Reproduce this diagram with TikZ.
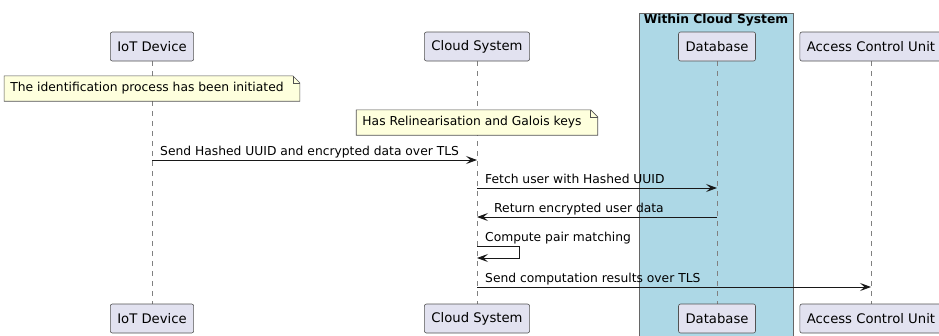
\documentclass[tikz,border=0pt]{standalone}
\usepackage{fontspec}
\setmainfont{DejaVu Sans}
\usetikzlibrary{arrows.meta, positioning, calc, backgrounds}
\definecolor{partfill}{HTML}{E2E2F0}
\definecolor{partline}{HTML}{181818}
\definecolor{notefill}{HTML}{FEFFDD}
\definecolor{boxfill}{HTML}{ADD8E6}
\tikzset{
  participant/.style={draw=partline!75, fill=partfill, rounded corners=2pt, line width=0.6pt,
    minimum height=29pt, inner xsep=7pt, font=\fontsize{13.2}{15}\selectfont},
  lifeline/.style={draw=gray, line width=0.6pt, dash pattern=on 5pt off 5pt},
  message/.style={draw=partline, line width=0.8pt, -{Stealth[length=11pt,width=8pt,inset=4.5pt]}},
  msglabel/.style={anchor=base west, inner sep=0pt, font=\fontsize{12.3}{14}\selectfont},
  notetext/.style={inner xsep=6pt, inner ysep=0pt, minimum height=25pt, font=\fontsize{12.3}{14}\selectfont},
  noteline/.style={draw=partline!75, line width=0.6pt, fill=notefill},
}

\begin{document}
\begin{tikzpicture}[x=1pt, y=-1pt]
  \useasboundingbox (0,0) rectangle (939,335);
  \clip (0,0) rectangle (939,335);

  % participants
  \node[participant] (iotTop) at (152,46.5) {IoT Device};
  \node[participant] (cloudTop) at (477,46.5) {Cloud System};
  \node[participant] (dbTop) at (717,46.5) {Database};
  \node[participant] (acuTop) at (871,46.5) {Access Control Unit};
  \node[participant] (iotBot) at (152,318.5) {IoT Device};
  \node[participant] (cloudBot) at (477,318.5) {Cloud System};
  \node[participant] (dbBot) at (717,318.5) {Database};
  \node[participant] (acuBot) at (871,318.5) {Access Control Unit};

  % notes
  \node[notetext] (idnote) at (147,88.5) {The identification process has been initiated};
  \node[notetext] (keynote) at (472,122.5) {Has Relinearisation and Galois keys};

  \begin{scope}[on background layer]
    % box round the database
    \draw[fill=boxfill, draw=gray!80!black, line width=0.6pt] (639,13) rectangle (793,340);
    \draw[lifeline] (iotTop) -- (iotBot);
    \draw[lifeline] (cloudTop) -- (cloudBot);
    \draw[lifeline] (dbTop) -- (dbBot);
    \draw[lifeline] (acuTop) -- (acuBot);
    \foreach \n in {idnote, keynote} {
      \draw[noteline] (\n.north west) -- ([xshift=3pt]\n.north east) -- ([xshift=10pt,yshift=-7pt]\n.north east)
        -- ([xshift=10pt]\n.south east) -- (\n.south west) -- cycle;
      \draw[noteline, fill=none] ([xshift=3pt]\n.north east) |- ([xshift=10pt,yshift=-7pt]\n.north east);
    }
  \end{scope}
  \node (boxtitle) at (716,20) {\fontsize{12.3}{14}\selectfont\bfseries Within Cloud System};

  % messages
  \coordinate (m1) at (0,160);
  \coordinate (m2) at (0,188);
  \coordinate (m3) at (0,217);
  \coordinate (m4) at (0,246);
  \coordinate (m5) at (0,287);

  \draw[message] (iotTop |- m1) -- (cloudTop |- m1);
  \node[msglabel] (l1) at ($(iotTop |- m1)+(8,-5)$) {Send Hashed UUID and encrypted data over TLS};

  \draw[message] (cloudTop |- m2) -- (dbTop |- m2);
  \node[msglabel] (l2) at ($(cloudTop |- m2)+(8,-5)$) {Fetch user with Hashed UUID};

  \draw[message] (dbTop |- m3) -- (cloudTop |- m3);
  \node[msglabel] (l3) at ($(cloudTop |- m3)+(17,-5)$) {Return encrypted user data};

  \draw[message] (cloudTop |- m4) -- ++(42,0) -- ++(0,12) -- ++(-42,0);
  \node[msglabel] (l4) at ($(cloudTop |- m4)+(8,-5)$) {Compute pair matching};

  \draw[message] (cloudTop |- m5) -- (acuTop |- m5);
  \node[msglabel] (l5) at ($(cloudTop |- m5)+(8,-5)$) {Send computation results over TLS};
\end{tikzpicture}
\end{document}
